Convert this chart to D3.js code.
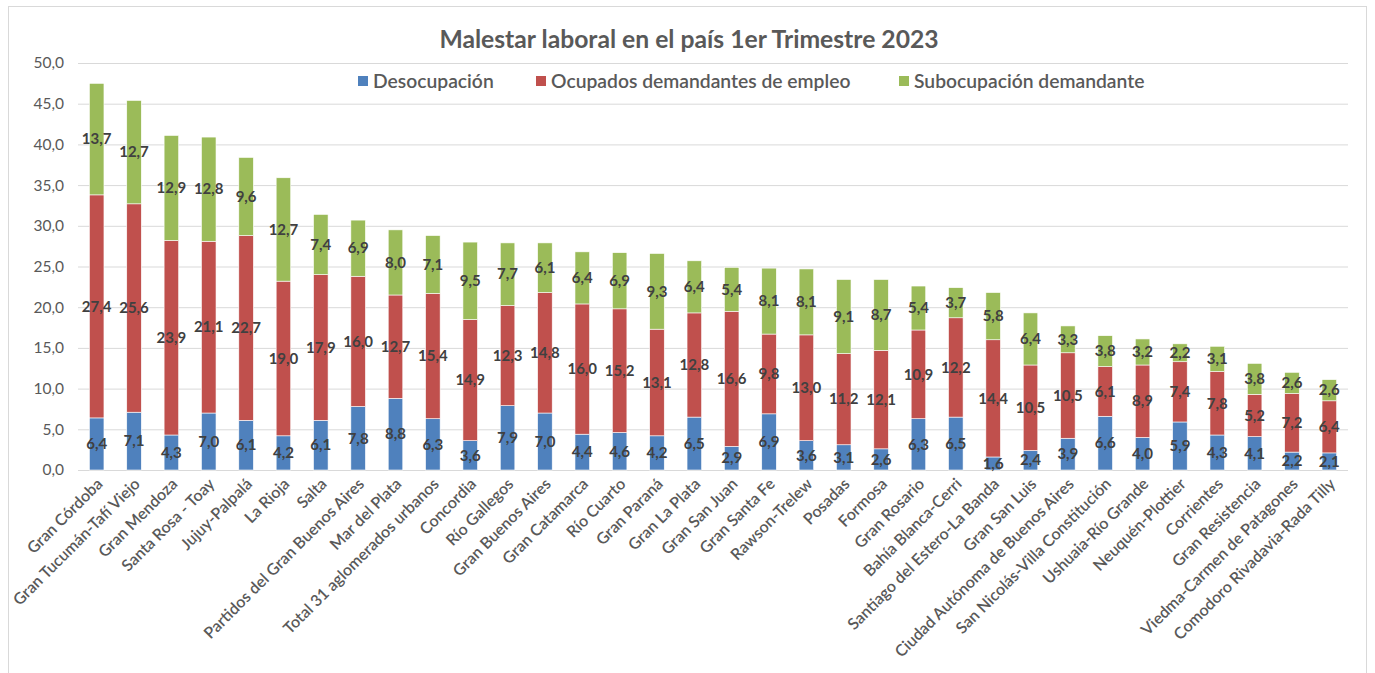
<!DOCTYPE html>
<html>
<head>
<meta charset="utf-8">
<script src="https://cdn.jsdelivr.net/npm/d3@7"></script>
<style>
  html, body { margin: 0; padding: 0; background: #fff; }
  svg { display: block; font-family: Lato, "Open Sans", sans-serif; }
</style>
</head>
<body>
<svg id="chart" width="1375" height="673"></svg>
<script>
// Aglomerados urbanos, ordered by total labour distress
const categories = [
  "Gran Córdoba", "Gran Tucumán-Tafí Viejo", "Gran Mendoza", "Santa Rosa - Toay",
  "Jujuy-Palpalá", "La Rioja", "Salta", "Partidos del Gran Buenos Aires",
  "Mar del Plata", "Total 31 aglomerados urbanos", "Concordia", "Río Gallegos",
  "Gran Buenos Aires", "Gran Catamarca", "Río Cuarto", "Gran Paraná",
  "Gran La Plata", "Gran San Juan", "Gran Santa Fe", "Rawson-Trelew",
  "Posadas", "Formosa", "Gran Rosario", "Bahía Blanca-Cerri",
  "Santiago del Estero-La Banda", "Gran San Luis", "Ciudad Autónoma de Buenos Aires",
  "San Nicolás-Villa Constitución", "Ushuaia-Río Grande", "Neuquén-Plottier",
  "Corrientes", "Gran Resistencia", "Viedma-Carmen de Patagones",
  "Comodoro Rivadavia-Rada Tilly"
];
const desocupacion = [
  6.4, 7.1, 4.3, 7.0, 6.1, 4.2, 6.1, 7.8, 8.8, 6.3, 3.6, 7.9, 7.0, 4.4, 4.6, 4.2, 6.5,
  2.9, 6.9, 3.6, 3.1, 2.6, 6.3, 6.5, 1.6, 2.4, 3.9, 6.6, 4.0, 5.9, 4.3, 4.1, 2.2, 2.1
];
const ocupadosDemandantes = [
  27.4, 25.6, 23.9, 21.1, 22.7, 19.0, 17.9, 16.0, 12.7, 15.4, 14.9, 12.3, 14.8, 16.0, 15.2, 13.1, 12.8,
  16.6, 9.8, 13.0, 11.2, 12.1, 10.9, 12.2, 14.4, 10.5, 10.5, 6.1, 8.9, 7.4, 7.8, 5.2, 7.2, 6.4
];
const subocupacion = [
  13.7, 12.7, 12.9, 12.8, 9.6, 12.7, 7.4, 6.9, 8.0, 7.1, 9.5, 7.7, 6.1, 6.4, 6.9, 9.3, 6.4,
  5.4, 8.1, 8.1, 9.1, 8.7, 5.4, 3.7, 5.8, 6.4, 3.3, 3.8, 3.2, 2.2, 3.1, 3.8, 2.6, 2.6
];
const seriesNames = ["Desocupación", "Ocupados demandantes de empleo", "Subocupación demandante"];
const yTicks = [0, 5, 10, 15, 20, 25, 30, 35, 40, 45, 50];
const title = "Malestar laboral en el país 1er Trimestre 2023";

const colors = ["#4f81bd", "#c0504d", "#9bbb59"];
const keys = ["des", "ocu", "sub"];

const rows = categories.map((c, i) => ({
  cat: c, des: desocupacion[i], ocu: ocupadosDemandantes[i], sub: subocupacion[i]
}));

const svg = d3.select("#chart");
const W = 1375, H = 673;
const margin = { left: 78, right: 27, top: 63, bottom: 203 };

const fmt = v => d3.format(".1f")(v).replace(".", ",");

// chart frame
svg.append("rect")
  .attr("x", 8.5).attr("y", 6.5)
  .attr("width", 1358).attr("height", 700)
  .attr("fill", "#fff").attr("stroke", "#d9d9d9").attr("stroke-width", 1);

const x = d3.scaleBand()
  .domain(categories)
  .range([margin.left, W - margin.right])
  .paddingInner(0.61)
  .paddingOuter(0.305);

const y = d3.scaleLinear()
  .domain([0, 50])
  .range([H - margin.bottom, margin.top]);

// gridlines and y axis labels
const yAxis = d3.axisLeft(y)
  .tickValues(yTicks)
  .tickSize(-(W - margin.right - margin.left))
  .tickPadding(14)
  .tickFormat(fmt);

const gy = svg.append("g")
  .attr("transform", `translate(${margin.left},0)`)
  .call(yAxis);
gy.select(".domain").remove();
gy.selectAll(".tick line").attr("stroke", "#d9d9d9").attr("stroke-width", 1);
gy.selectAll(".tick text")
  .attr("fill", "#595959")
  .style("font-size", "15.5px")
  .style("font-family", "Lato, sans-serif");

// stacked bars
const stack = d3.stack().keys(keys);
const layers = stack(rows);

const gBars = svg.append("g");
layers.forEach((layer, li) => {
  gBars.append("g")
    .attr("fill", colors[li])
    .selectAll("rect")
    .data(layer)
    .join("rect")
    .attr("x", d => x(d.data.cat))
    .attr("width", x.bandwidth())
    .attr("y", d => y(d[1]))
    .attr("height", d => y(d[0]) - y(d[1]))
    .attr("stroke", "#ffffff")
    .attr("stroke-width", 0.6);
});

// value labels centred inside each segment
const gLabels = svg.append("g")
  .attr("text-anchor", "middle")
  .attr("fill", "#404040")
  .style("font-size", "15px")
  .style("font-weight", "700");
layers.forEach((layer, li) => {
  gLabels.append("g")
    .selectAll("text")
    .data(layer)
    .join("text")
    .attr("x", d => x(d.data.cat) + x.bandwidth() / 2)
    .attr("y", d => y((d[0] + d[1]) / 2))
    .attr("dy", "0.35em")
    .text(d => fmt(d.data[keys[li]]));
});

// category labels, rotated
const gx = svg.append("g")
  .attr("transform", `translate(0,${H - margin.bottom})`)
  .call(d3.axisBottom(x).tickSize(0).tickPadding(0));
gx.select(".domain").remove();
gx.selectAll(".tick text")
  .attr("fill", "#595959")
  .style("font-size", "16px")
  .style("font-weight", "600")
  .style("font-family", "Lato, sans-serif")
  .attr("text-anchor", "end")
  .attr("dy", null)
  .attr("y", 0)
  .attr("transform", "translate(7,15) rotate(-45)");

// title
svg.append("text")
  .attr("x", 689).attr("y", 48)
  .attr("text-anchor", "middle")
  .attr("fill", "#595959")
  .style("font-size", "24.7px")
  .style("font-weight", "700")
  .text(title);

// legend
const legendX = [358, 536, 899];
const legend = svg.append("g");
seriesNames.forEach((name, i) => {
  const g = legend.append("g").attr("transform", `translate(${legendX[i]},81)`);
  g.append("rect").attr("x", 0).attr("y", -5).attr("width", 10).attr("height", 10).attr("fill", colors[i]);
  g.append("text")
    .attr("x", 15).attr("y", 0).attr("dy", "0.35em")
    .attr("fill", "#595959")
    .style("font-size", "19.3px")
    .style("font-weight", "600")
    .text(name);
});
</script>
</body>
</html>
